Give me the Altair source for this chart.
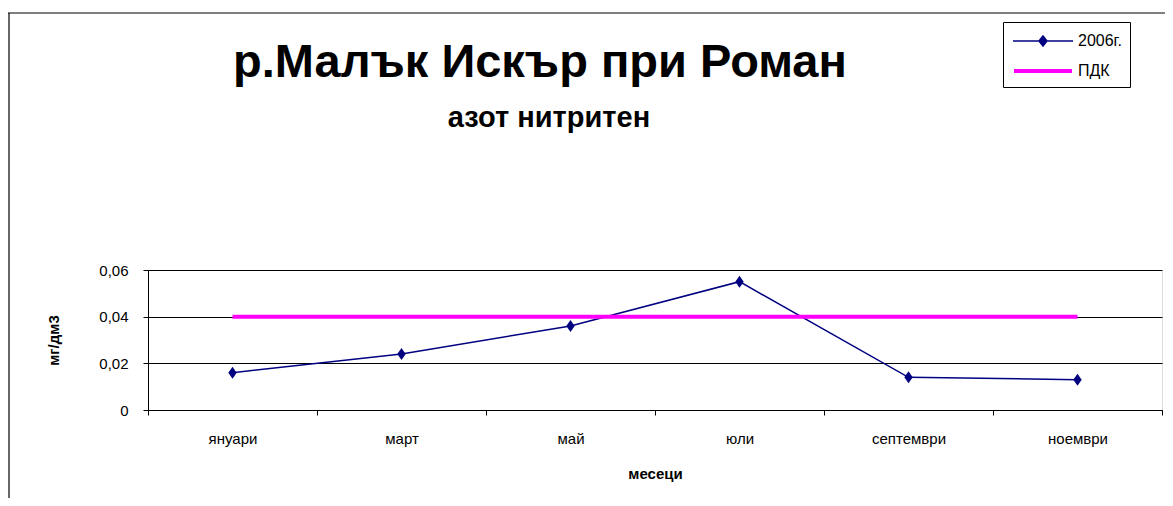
import altair as alt
import pandas as pd

# ---- data ----
months = ["януари", "март", "май", "юли", "септември", "ноември"]
values_2006 = [0.016, 0.024, 0.036, 0.055, 0.014, 0.013]
pdk_values = [0.04, 0.04, 0.04, 0.04, 0.04, 0.04]
series_names = ["2006г.", "ПДК"]
y_ticks = [0, 0.02, 0.04, 0.06]
title_text = "р.Малък Искър при Роман"
subtitle_text = "азот нитритен"
x_title = "месеци"
y_title = "мг/дм3"

NAVY = "#000080"
MAGENTA = "#FF00FF"
FONT = "Liberation Sans"

df = pd.DataFrame({
    "month": months * 2,
    "value": values_2006 + pdk_values,
    "series": [series_names[0]] * len(months) + [series_names[1]] * len(months),
})

x_enc = alt.X(
    "month:N", sort=months,
    scale=alt.Scale(type="band", paddingInner=0, paddingOuter=0),
    axis=alt.Axis(
        title=x_title, labelAngle=0, tickBand="extent", grid=False,
        labelFont=FONT, labelFontSize=15, labelColor="black", labelPadding=16,
        tickSize=5, tickColor="black", domainColor="black",
        titleFont=FONT, titleFontSize=15, titleFontWeight="bold", titleColor="black",
        titleY=63, titleBaseline="middle",
    ),
)
y_enc = alt.Y(
    "value:Q",
    scale=alt.Scale(domain=[0, 0.06], nice=False, zero=True),
    axis=alt.Axis(
        title=y_title, values=y_ticks,
        labelExpr="datum.value == 0 ? '0' : replace(format(datum.value, '.2f'), '.', ',')",
        labelFont=FONT, labelFontSize=15, labelColor="black", labelPadding=15,
        tickSize=5, tickColor="black", domainColor="black",
        grid=True, gridColor="black", gridWidth=1,
        titleFont=FONT, titleFontSize=15, titleFontWeight="bold", titleColor="black",
        titleAngle=270, titleX=-95, titleY=70, titleAlign="center", titleBaseline="middle",
    ),
)

color_scale = alt.Scale(domain=series_names, range=[NAVY, MAGENTA])

legend = alt.Legend(
    title=None, orient="none", legendX=855, legendY=-248,
    strokeColor="black", fillColor="white", padding=8,
    labelFont=FONT, labelFontSize=16, labelColor="black",
    symbolSize=400, symbolOffset=20, labelOffset=23, rowPadding=10,
    symbolType={"expr": "datum.value == '2006г.' ? 'M-3,0L3,0M0,-0.5L0.4,0L0,0.5L-0.4,0Z' : 'M-2.9,0L2.9,0'"},
    symbolFillColor={"expr": "datum.value == '2006г.' ? '#000080' : 'transparent'"},
    symbolStrokeWidth={"expr": "datum.value == '2006г.' ? 1.5 : 5"},
)

lines = alt.Chart(df).mark_line().encode(
    x=x_enc,
    y=y_enc,
    color=alt.Color("series:N", scale=color_scale, legend=legend),
    strokeWidth=alt.StrokeWidth("series:N", scale=alt.Scale(domain=series_names, range=[1.5, 4]), legend=None),
    detail="series:N",
)

points = alt.Chart(df).transform_filter(
    alt.datum.series == series_names[0]
).mark_point(
    shape="M0,-1L0.7,0L0,1L-0.7,0Z", filled=True, size=144, opacity=1, color=NAVY, strokeWidth=0
).encode(
    x=alt.X("month:N", sort=months),
    y="value:Q",
)

titles = pd.DataFrame({"t": [title_text]})
subtitles = pd.DataFrame({"t": [subtitle_text]})

title_mark = alt.Chart(titles).mark_text(
    font=FONT, fontSize=47, fontWeight="bold", color="black", align="center", baseline="alphabetic"
).encode(text="t:N", x=alt.value(392), y=alt.value(-193))

subtitle_mark = alt.Chart(subtitles).mark_text(
    font=FONT, fontSize=29, fontWeight="bold", color="black", align="center", baseline="alphabetic"
).encode(text="t:N", x=alt.value(401), y=alt.value(-143))

# chart area border (top and left edges visible in the reference crop)
border_top = alt.Chart(titles).mark_rule(color="black", strokeWidth=1.2).encode(
    x=alt.value(-160), x2=alt.value(1030), y=alt.value(-257)
)
border_left = alt.Chart(titles).mark_rule(color="black", strokeWidth=1.2).encode(
    x=alt.value(-139), y=alt.value(-257), y2=alt.value(240)
)

chart = alt.layer(lines, points, title_mark, subtitle_mark, border_top, border_left).properties(
    width=1014, height=140,
    autosize=alt.AutoSizeParams(type="none"),
    padding={"left": 140, "top": 262, "right": 3, "bottom": 88},
).configure_view(
    stroke="#808080", strokeWidth=1
).configure(
    background="white"
)

chart.save("out.html", embed_options={"renderer": "svg", "actions": False})
